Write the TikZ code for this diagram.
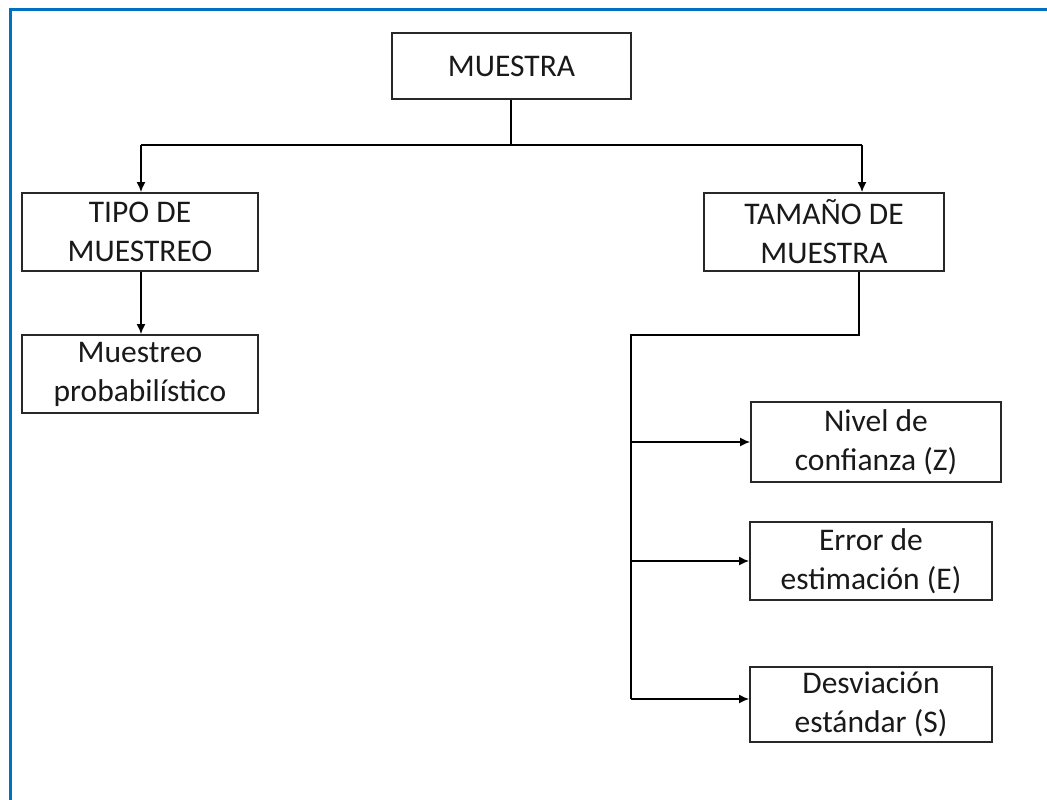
\documentclass[tikz,border=0pt]{standalone}
\usepackage{fontspec}
\setmainfont{Carlito}
\usetikzlibrary{arrows.meta}
\definecolor{frameblue}{RGB}{0,112,192}
\definecolor{boxline}{RGB}{40,40,40}
\tikzset{
  box/.style={draw=boxline, line width=1.8pt, align=center, inner sep=0pt,
    font=\fontsize{31.5}{39}\selectfont, text=black!90},
  conn/.style={draw=black, line width=1.6pt},
  arr/.style={conn, -{Latex[length=10pt,width=9pt]}}
}
\begin{document}
\begin{tikzpicture}[x=1pt,y=-1pt]
\useasboundingbox (0,0) rectangle (1047,800);
\draw[frameblue, line width=3pt] (10,800) -- (10,10) -- (1047,10);

\node[box, minimum width=239pt, minimum height=66pt] (muestra) at (511.5,66) {MUESTRA};
\node[box, minimum width=236pt, minimum height=78pt] (tipo) at (140,232) {TIPO DE\\MUESTREO};
\node[box, minimum width=240pt, minimum height=78pt] (tam) at (824,232) {TAMAÑO DE\\MUESTRA};
\node[box, minimum width=236pt, minimum height=78pt] (prob) at (140,374) {Muestreo\\probabilístico};
\node[box, minimum width=250pt, minimum height=80pt] (nivel) at (876,442) {Nivel de\\confianza (Z)};
\node[box, minimum width=242pt, minimum height=78pt] (error) at (871,561) {Error de\\estimación (E)};
\node[box, minimum width=242pt, minimum height=75pt] (desv) at (871,704.5) {Desviación\\estándar (S)};

\coordinate (split) at (511,145);
\coordinate (tL) at (141,145);
\coordinate (tR) at (862,145);
\draw[conn] (muestra.south -| split) -- (split);
\draw[conn] (tL) -- (tR);
\draw[arr] (tL) -- (tL |- tipo.north);
\draw[arr] (tR) -- (tR |- tam.north);
\draw[arr] (tipo.south -| tL) -- (tL |- prob.north);

\coordinate (tb) at (859,271);
\coordinate (bend) at (859,335);
\coordinate (trunkTop) at (631,335);
\coordinate (trunkBot) at (631,699);
\draw[conn] (tam.south -| tb) -- (bend) -- (trunkTop) -- (trunkBot);
\draw[arr] (trunkTop |- nivel.west) -- (nivel.west);
\draw[arr] (trunkTop |- error.west) -- (error.west);
\draw[arr] (trunkBot) -- (trunkBot -| desv.west);
\end{tikzpicture}
\end{document}
